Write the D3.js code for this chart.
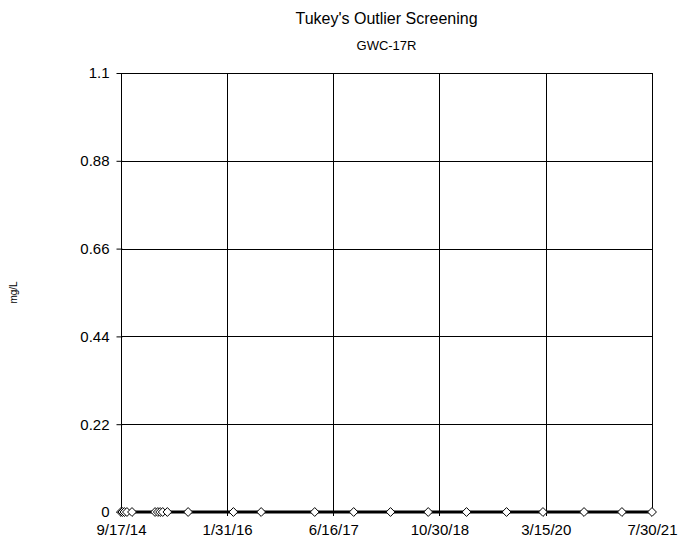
<!DOCTYPE html>
<html>
<head>
<meta charset="utf-8">
<script src="https://cdn.jsdelivr.net/npm/d3@7"></script>
<style>
  body { margin: 0; background: #fff; }
  svg { display: block; }
  text { font-family: "Liberation Sans", Arial, sans-serif; fill: #000; }
</style>
</head>
<body>
<svg id="chart" width="681" height="543"></svg>
<script>
const chartTitle = "Tukey's Outlier Screening";
const chartSubtitle = "GWC-17R";
const yLabel = "mg/L";
const sampleDates = [
  "2014-09-17", "2014-09-24", "2014-10-03", "2014-10-15", "2014-11-08",
  "2015-02-25", "2015-03-10", "2015-03-21", "2015-04-02", "2015-04-24",
  "2015-07-31", "2016-03-01", "2016-07-10", "2017-03-20", "2017-09-20",
  "2018-03-13", "2018-09-07", "2019-03-07", "2019-09-12", "2020-03-02",
  "2020-09-12", "2021-03-10", "2021-07-30"
];
const sampleValues = [0,0,0,0,0, 0,0,0,0,0, 0,0,0,0,0, 0,0,0,0,0, 0,0,0];
const xTickDates = ["2014-09-17", "2016-01-31", "2017-06-16", "2018-10-30", "2020-03-15", "2021-07-30"];
const xTickLabels = ["9/17/14", "1/31/16", "6/16/17", "10/30/18", "3/15/20", "7/30/21"];
const yTicks = [0, 0.22, 0.44, 0.66, 0.88, 1.1];
const yTickLabels = ["0", "0.22", "0.44", "0.66", "0.88", "1.1"];

const parse = d3.utcParse("%Y-%m-%d");
const data = sampleDates.map((d, i) => ({ date: parse(d), value: sampleValues[i] }));
const xTicks = xTickDates.map(parse);

const margin = { left: 121, right: 29, top: 73, bottom: 31 };
const W = 681, H = 543;
const svg = d3.select("#chart");

const x = d3.scaleUtc().domain([xTicks[0], xTicks[xTicks.length - 1]]).range([margin.left, W - margin.right]);
const y = d3.scaleLinear().domain([0, 1.1]).range([H - margin.bottom, margin.top]);

// gridlines
const g = svg.append("g");
g.selectAll("line.hgrid").data(yTicks).join("line")
  .attr("x1", margin.left).attr("x2", W - margin.right)
  .attr("y1", d => Math.round(y(d)) + 0.5).attr("y2", d => Math.round(y(d)) + 0.5)
  .attr("stroke", "#000").attr("stroke-width", 1);
g.selectAll("line.vgrid").data(xTicks).join("line")
  .attr("x1", d => Math.round(x(d)) + 0.5).attr("x2", d => Math.round(x(d)) + 0.5)
  .attr("y1", margin.top).attr("y2", H - margin.bottom + 4)
  .attr("stroke", "#000").attr("stroke-width", 1);

// y axis
const yAxis = d3.axisLeft(y).tickValues(yTicks).tickFormat((d, i) => yTickLabels[i]).tickSize(4).tickPadding(8);
svg.append("g").attr("transform", `translate(${margin.left + 0.5},0)`).call(yAxis)
  .call(a => a.select(".domain").remove())
  .call(a => a.selectAll(".tick line").attr("stroke", "#000").attr("x2", -5).attr("x1", 1))
  .call(a => a.selectAll("text").style("font-size", "15px").attr("font-family", "Liberation Sans, Arial, sans-serif"));

// x axis labels
const xAxis = d3.axisBottom(x).tickValues(xTicks).tickFormat((d, i) => xTickLabels[i]).tickSize(0).tickPadding(12);
svg.append("g").attr("transform", `translate(0,${H - margin.bottom})`).call(xAxis)
  .call(a => a.select(".domain").remove())
  .call(a => a.selectAll("text").style("font-size", "15px").attr("font-family", "Liberation Sans, Arial, sans-serif"));

// data line
const line = d3.line().x(d => x(d.date)).y(d => y(d.value));
svg.append("path").datum(data).attr("d", line)
  .attr("fill", "none").attr("stroke", "#000").attr("stroke-width", 3);

// diamonds
svg.selectAll("path.pt").data(data).join("path")
  .attr("class", "pt")
  .attr("d", d3.symbol().type(d3.symbolDiamond2).size(50))
  .attr("transform", d => `translate(${x(d.date)},${y(d.value)})`)
  .attr("fill", "#fff").attr("stroke", "#000").attr("stroke-width", 1);

// titles
const cx = (margin.left + W - margin.right) / 2;
svg.append("text").attr("x", cx).attr("y", 24).attr("text-anchor", "middle")
  .style("font-size", "16px").text(chartTitle);
svg.append("text").attr("x", cx).attr("y", 50).attr("text-anchor", "middle")
  .style("font-size", "13px").text(chartSubtitle);
svg.append("text").attr("transform", `translate(17,${(margin.top + H - margin.bottom) / 2}) rotate(-90)`)
  .attr("text-anchor", "middle").style("font-size", "10px").text(yLabel);
</script>
</body>
</html>
